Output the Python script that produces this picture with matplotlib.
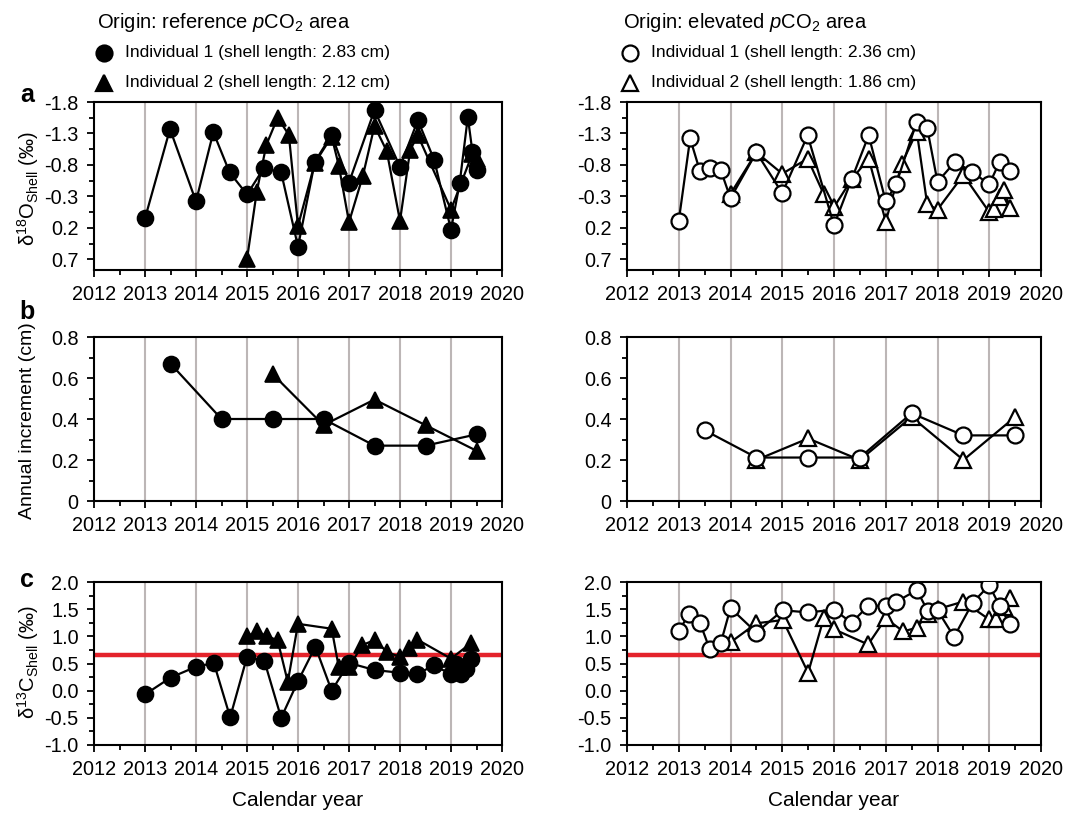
import numpy as np
import matplotlib
matplotlib.use('Agg')
import matplotlib.pyplot as plt
from matplotlib.lines import Line2D

plt.rcParams['font.family'] = ['Liberation Sans', 'DejaVu Sans']
plt.rcParams['mathtext.fontset'] = 'custom'
plt.rcParams['mathtext.rm'] = 'Liberation Sans'
plt.rcParams['mathtext.it'] = 'Liberation Sans:italic'

# --- data: delta 18O of shell (per mil) ---
o_ref1_x = [2013.0, 2013.49, 2014.0, 2014.34, 2014.66, 2015.0, 2015.33, 2015.67, 2016.0, 2016.33,
            2016.66, 2017.0, 2017.5, 2018.0, 2018.35, 2018.67, 2019.0, 2019.17, 2019.33, 2019.42, 2019.5]
o_ref1_y = [0.05, -1.37, -0.22, -1.32, -0.68, -0.33, -0.75, -0.68, 0.50, -0.85,
            -1.28, -0.52, -1.67, -0.77, -1.51, -0.88, 0.23, -0.51, -1.56, -1.01, -0.72]
o_ref2_x = [2015.0, 2015.19, 2015.38, 2015.6, 2015.82, 2016.0, 2016.33, 2016.66, 2016.8, 2017.0,
            2017.27, 2017.5, 2017.74, 2018.0, 2018.2, 2018.35, 2019.0, 2019.42, 2019.5]
o_ref2_y = [0.70, -0.37, -1.12, -1.55, -1.28, 0.17, -0.83, -1.25, -0.79, 0.11,
            -0.62, -1.42, -1.02, 0.09, -1.04, -1.27, -0.09, -0.98, -0.90]
o_elv1_x = [2013.0, 2013.22, 2013.41, 2013.61, 2013.81, 2014.0, 2014.5, 2015.0, 2015.49, 2016.0,
            2016.34, 2016.67, 2017.0, 2017.2, 2017.6, 2017.8, 2018.0, 2018.34, 2018.67, 2019.0,
            2019.2, 2019.4]
o_elv1_y = [0.09, -1.22, -0.70, -0.75, -0.72, -0.27, -1.0, -0.35, -1.27, 0.16,
            -0.57, -1.27, -0.22, -0.49, -1.49, -1.39, -0.53, -0.85, -0.69, -0.49,
            -0.85, -0.71]
o_elv2_x = [2014.0, 2014.5, 2015.0, 2015.49, 2015.8, 2016.0, 2016.34, 2016.67, 2017.0, 2017.31,
            2017.6, 2017.8, 2018.0, 2018.5, 2019.0, 2019.1, 2019.2, 2019.29, 2019.4]
o_elv2_y = [-0.34, -1.0, -0.66, -0.90, -0.34, -0.13, -0.57, -0.90, 0.10, -0.82,
            -1.33, -0.18, -0.09, -0.64, -0.05, -0.10, -0.29, -0.40, -0.11]

# --- data: annual increment (cm) ---
inc_ref1_x = [2013.5, 2014.5, 2015.5, 2016.5, 2017.5, 2018.5, 2019.5]
inc_ref1_y = [0.67, 0.40, 0.40, 0.40, 0.27, 0.27, 0.325]
inc_ref2_x = [2015.5, 2016.5, 2017.5, 2018.5, 2019.5]
inc_ref2_y = [0.62, 0.37, 0.495, 0.37, 0.245]
inc_elv1_x = [2013.5, 2014.5, 2015.5, 2016.5, 2017.5, 2018.5, 2019.5]
inc_elv1_y = [0.345, 0.212, 0.212, 0.212, 0.428, 0.32, 0.32]
inc_elv2_x = [2014.5, 2015.5, 2016.5, 2017.5, 2018.5, 2019.5]
inc_elv2_y = [0.20, 0.305, 0.20, 0.41, 0.20, 0.41]

# --- data: delta 13C of shell (per mil) ---
c_ref1_x = [2013.0, 2013.5, 2014.0, 2014.35, 2014.67, 2015.0, 2015.34, 2015.67, 2016.0, 2016.34,
            2016.66, 2017.0, 2017.5, 2018.0, 2018.34, 2018.66, 2019.0, 2019.1, 2019.2, 2019.3, 2019.4]
c_ref1_y = [-0.07, 0.24, 0.44, 0.51, -0.49, 0.62, 0.55, -0.50, 0.175, 0.81,
            0.0, 0.51, 0.38, 0.33, 0.30, 0.47, 0.30, 0.49, 0.30, 0.39, 0.59]
c_ref2_x = [2015.0, 2015.2, 2015.39, 2015.6, 2015.8, 2016.0, 2016.66, 2016.8, 2017.0, 2017.26,
            2017.5, 2017.75, 2018.0, 2018.18, 2018.34, 2019.0, 2019.4]
c_ref2_y = [1.0, 1.09, 1.0, 0.93, 0.16, 1.23, 1.14, 0.43, 0.43, 0.84,
            0.93, 0.71, 0.62, 0.78, 0.94, 0.59, 0.88]
c_elv1_x = [2013.0, 2013.2, 2013.41, 2013.6, 2013.81, 2014.0, 2014.5, 2015.01, 2015.5, 2016.0,
            2016.34, 2016.66, 2017.0, 2017.19, 2017.6, 2017.81, 2018.0, 2018.32, 2018.68, 2019.0,
            2019.2, 2019.4]
c_elv1_y = [1.10, 1.41, 1.25, 0.76, 0.87, 1.52, 1.07, 1.48, 1.44, 1.49,
            1.25, 1.56, 1.56, 1.63, 1.85, 1.47, 1.48, 0.99, 1.62, 1.94,
            1.56, 1.22]
c_elv2_x = [2014.0, 2014.5, 2015.01, 2015.5, 2015.8, 2016.0, 2016.66, 2017.0, 2017.34, 2017.6,
            2017.81, 2018.0, 2018.5, 2019.0, 2019.13, 2019.29, 2019.4]
c_elv2_y = [0.89, 1.24, 1.30, 0.33, 1.33, 1.13, 0.85, 1.33, 1.09, 1.16,
            1.41, 1.50, 1.64, 1.31, 1.31, 1.54, 1.70]
c_ref_line = 0.65

W, H = 1076, 816
fig = plt.figure(figsize=(W / 100, H / 100), dpi=100)


def px_axes(x0, y0, x1, y1):
    return fig.add_axes([x0 / W, 1 - y1 / H, (x1 - x0) / W, (y1 - y0) / H])


def style(ax):
    ax.set_xlim(2012, 2020)
    ax.set_xticks(range(2012, 2021))
    ax.set_xticks(np.arange(2012, 2020.01, 0.5), minor=True)
    for yr in range(2013, 2020):
        ax.axvline(yr, color='#bcb6b6', lw=1.5, zorder=0)
    ax.tick_params(which='both', direction='out', width=1.3, labelsize=14.3, colors='black')
    ax.tick_params(which='major', length=5)
    ax.tick_params(which='minor', length=3.5)
    ax.tick_params(axis='y', pad=6)
    ax.tick_params(axis='x', pad=6)
    for s in ax.spines.values():
        s.set_linewidth(1.5)


filled = dict(color='black', lw=1.6, mfc='black', mec='black', mew=1.2)
empty = dict(color='black', lw=1.6, mfc='white', mec='black', mew=1.6)

lefts = (94, 502)
rights = (627, 1041)
rows = [(102, 270), (337, 501), (582, 745)]

# panel a
for (x0, x1), s1, s2, st in [(lefts, (o_ref1_x, o_ref1_y), (o_ref2_x, o_ref2_y), filled),
                              (rights, (o_elv1_x, o_elv1_y), (o_elv2_x, o_elv2_y), empty)]:
    ax = px_axes(x0, rows[0][0], x1, rows[0][1])
    style(ax)
    ax.plot(*s2, marker='^', ms=11, zorder=3, **st)
    ax.plot(*s1, marker='o', ms=11.5, zorder=4, **st)
    ax.set_ylim(0.87, -1.8)
    ax.set_yticks([-1.8, -1.3, -0.8, -0.3, 0.2, 0.7])
    ax.set_yticklabels(['-1.8', '-1.3', '-0.8', '-0.3', '0.2', '0.7'])
    ax.set_yticks(np.arange(-1.55, 0.8, 0.5), minor=True)

# panel b
for (x0, x1), s1, s2, st in [(lefts, (inc_ref1_x, inc_ref1_y), (inc_ref2_x, inc_ref2_y), filled),
                              (rights, (inc_elv1_x, inc_elv1_y), (inc_elv2_x, inc_elv2_y), empty)]:
    ax = px_axes(x0, rows[1][0], x1, rows[1][1])
    style(ax)
    ax.plot(*s2, marker='^', ms=11, zorder=3, **st)
    ax.plot(*s1, marker='o', ms=11.5, zorder=4, **st)
    ax.set_ylim(0, 0.8)
    ax.set_yticks([0, 0.2, 0.4, 0.6, 0.8])
    ax.set_yticklabels(['0', '0.2', '0.4', '0.6', '0.8'])
    ax.set_yticks(np.arange(0.1, 0.8, 0.2), minor=True)

# panel c
for (x0, x1), s1, s2, st in [(lefts, (c_ref1_x, c_ref1_y), (c_ref2_x, c_ref2_y), filled),
                              (rights, (c_elv1_x, c_elv1_y), (c_elv2_x, c_elv2_y), empty)]:
    ax = px_axes(x0, rows[2][0], x1, rows[2][1])
    style(ax)
    ax.axhline(c_ref_line, color='#e4232b', lw=3.2, zorder=2)
    ax.plot(*s2, marker='^', ms=11, zorder=3, **st)
    ax.plot(*s1, marker='o', ms=11.5, zorder=4, **st)
    ax.set_ylim(-1.0, 2.0)
    ax.set_yticks(np.arange(-1.0, 2.01, 0.5))
    ax.set_yticklabels(['-1.0', '-0.5', '0.0', '0.5', '1.0', '1.5', '2.0'])
    ax.set_yticks(np.arange(-0.75, 2.0, 0.5), minor=True)
    fig.text((x0 + x1) / 2 / W, 1 - 800 / H, 'Calendar year', ha='center', va='center', fontsize=15)

# y labels and panel letters
fig.text(28 / W, 1 - 188 / H, 'δ$^{18}$O$_{\\mathrm{Shell}}$ (‰)', rotation=90,
         ha='center', va='center', fontsize=14.5)
fig.text(28 / W, 1 - 421 / H, 'Annual increment (cm)', rotation=90,
         ha='center', va='center', fontsize=14)
fig.text(28 / W, 1 - 662 / H, 'δ$^{13}$C$_{\\mathrm{Shell}}$ (‰)', rotation=90,
         ha='center', va='center', fontsize=14.5)
for letter, yy in [('a', 95), ('b', 312), ('c', 580)]:
    fig.text(27 / W, 1 - yy / H, letter, ha='center', va='center', fontsize=18, fontweight='bold')

# headers and legends
headers = [(97, 'Origin: reference $\\mathit{p}\\mathrm{CO}_2$ area', 'black',
            ['Individual 1 (shell length: 2.83 cm)', 'Individual 2 (shell length: 2.12 cm)']),
           (623, 'Origin: elevated $\\mathit{p}\\mathrm{CO}_2$ area', 'white',
            ['Individual 1 (shell length: 2.36 cm)', 'Individual 2 (shell length: 1.86 cm)'])]
for x0, title, face, labels in headers:
    fig.text(x0 / W, 1 - 22 / H, title, ha='left', va='center', fontsize=14.5)
    for (mk, ms), lab, yy in zip([('o', 11.5), ('^', 11)], labels, [53, 83]):
        fig.add_artist(Line2D([(x0 + 7) / W], [1 - yy / H], marker=mk, ms=ms, mfc=face,
                              mec='black', mew=1.6, ls='none', transform=fig.transFigure))
        fig.text((x0 + 28) / W, 1 - yy / H, lab, ha='left', va='center', fontsize=12.6)

fig.savefig('out.png', dpi=100)
